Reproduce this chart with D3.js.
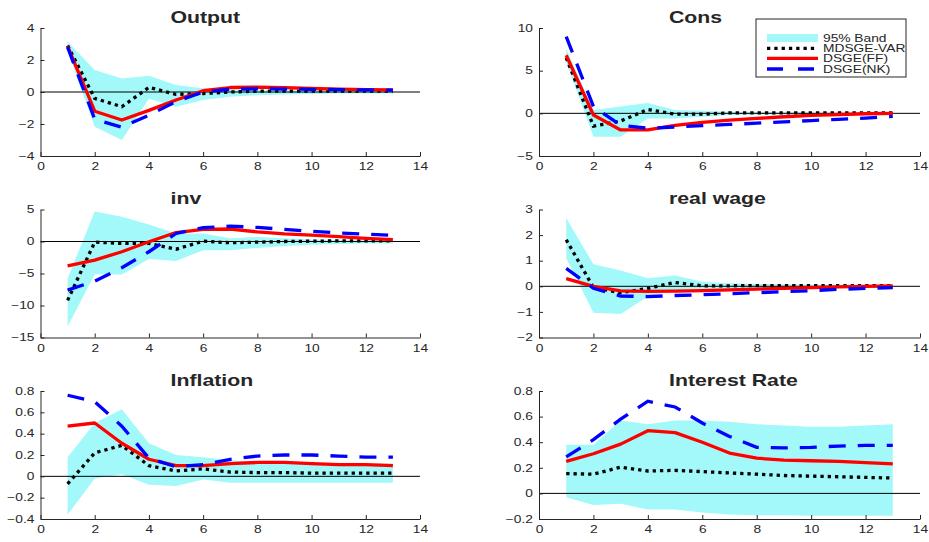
<!DOCTYPE html>
<html>
<head>
<meta charset="utf-8">
<script src="https://cdn.jsdelivr.net/npm/d3@7"></script>
<style>
  html, body { margin: 0; padding: 0; background: #fff; }
  svg { display: block; }
  text { font-family: "Liberation Sans", Arial, Helvetica, sans-serif; fill: #262626; }
</style>
</head>
<body>
<svg id="chart" width="929" height="542"></svg>
<script>
// ---------- data ----------
const periods = [1,2,3,4,5,6,7,8,9,10,11,12,13];
const xTicks = [0,2,4,6,8,10,12,14];
const seriesNames = ["95% Band", "MDSGE-VAR", "DSGE(FF)", "DSGE(NK)"];

// Output
const outputUpper = [3.15, 1.38, 0.84, 1.02, 0.44, 0.23, 0.15, 0.12, 0.11, 0.1, 0.1, 0.1, 0.1];
const outputLower = [2.6, -2.17, -3.0, -0.42, -0.92, -0.5, -0.3, -0.2, -0.15, -0.12, -0.1, -0.1, -0.1];
const outputVar   = [2.9, -0.4, -0.92, 0.29, -0.15, -0.1, 0.0, 0.05, 0.05, 0.05, 0.05, 0.05, 0.05];
const outputFF    = [2.85, -1.2, -1.75, -1.15, -0.5, 0.08, 0.28, 0.3, 0.27, 0.22, 0.18, 0.15, 0.13];
const outputNK    = [2.8, -1.7, -2.2, -1.45, -0.6, 0.0, 0.18, 0.2, 0.18, 0.17, 0.15, 0.13, 0.12];
const outputTicks = [-4, -2, 0, 2, 4];

// Cons
const consUpper = [7.6, 0.4, 0.8, 1.2, 0.4, 0.3, 0.2, 0.15, 0.12, 0.1, 0.1, 0.1, 0.1];
const consLower = [6.0, -2.75, -2.75, -0.6, -0.6, -0.4, -0.2, -0.15, -0.12, -0.1, -0.1, -0.1, -0.1];
const consVar   = [6.5, -1.5, -0.9, 0.45, -0.1, -0.1, 0.05, 0.05, 0.05, 0.05, 0.05, 0.05, 0.05];
const consFF    = [6.8, -0.2, -1.95, -1.95, -1.4, -1.05, -0.8, -0.6, -0.4, -0.25, -0.15, -0.05, 0.0];
const consNK    = [9.0, 0.8, -1.4, -1.75, -1.6, -1.45, -1.3, -1.15, -1.0, -0.85, -0.7, -0.55, -0.35];
const consTicks = [-5, 0, 5, 10];

// inv
const invUpper = [-5.8, 4.7, 3.85, 2.65, 1.25, 1.25, 0.5, 0.7, 0.5, 0.3, 0.25, 0.2, 0.2];
const invLower = [-13.3, -5.1, -5.15, -2.75, -3.05, -1.35, -1.35, -1.0, -0.7, -0.5, -0.4, -0.3, -0.3];
const invVar   = [-9.2, -0.1, -0.3, -0.3, -1.2, 0.05, -0.2, -0.1, 0.0, 0.05, 0.1, 0.1, 0.1];
const invFF    = [-3.8, -2.9, -1.6, -0.05, 1.4, 1.9, 1.95, 1.5, 1.2, 1.0, 0.75, 0.5, 0.3];
const invNK    = [-7.6, -6.2, -4.1, -1.6, 1.25, 2.15, 2.4, 2.2, 1.9, 1.6, 1.35, 1.15, 0.95];
const invTicks = [-15, -10, -5, 0, 5];

// real wage
const wageUpper = [2.67, 0.86, 0.62, 0.31, 0.42, 0.18, 0.12, 0.1, 0.08, 0.06, 0.05, 0.05, 0.05];
const wageLower = [1.1, -1.03, -1.08, -0.4, -0.15, -0.1, -0.1, -0.08, -0.07, -0.06, -0.05, -0.05, -0.05];
const wageVar   = [1.82, -0.05, -0.25, -0.08, 0.15, 0.02, 0.02, 0.03, 0.03, 0.03, 0.03, 0.03, 0.03];
const wageFF    = [0.3, 0.0, -0.18, -0.2, -0.19, -0.17, -0.14, -0.11, -0.08, -0.05, -0.02, 0.0, 0.02];
const wageNK    = [0.7, -0.08, -0.38, -0.4, -0.36, -0.33, -0.29, -0.25, -0.21, -0.17, -0.12, -0.08, -0.05];
const wageTicks = [-2, -1, 0, 1, 2, 3];

// Inflation
const inflUpper = [0.18, 0.5, 0.63, 0.31, 0.2, 0.18, 0.15, 0.13, 0.12, 0.12, 0.12, 0.12, 0.12];
const inflLower = [-0.36, -0.02, 0.02, -0.08, -0.09, -0.03, -0.06, -0.06, -0.06, -0.06, -0.06, -0.06, -0.06];
const inflVar   = [-0.07, 0.22, 0.29, 0.1, 0.05, 0.07, 0.04, 0.035, 0.035, 0.03, 0.03, 0.03, 0.03];
const inflFF    = [0.47, 0.5, 0.31, 0.16, 0.1, 0.1, 0.12, 0.13, 0.13, 0.12, 0.11, 0.11, 0.1];
const inflNK    = [0.76, 0.7, 0.47, 0.17, 0.09, 0.11, 0.16, 0.19, 0.2, 0.2, 0.19, 0.18, 0.18];
const inflTicks = [-0.4, -0.2, 0, 0.2, 0.4, 0.6, 0.8];

// Interest Rate
const rateUpper = [0.38, 0.38, 0.57, 0.54, 0.57, 0.57, 0.56, 0.54, 0.53, 0.52, 0.52, 0.53, 0.54];
const rateLower = [-0.03, -0.09, -0.08, -0.125, -0.125, -0.15, -0.165, -0.17, -0.17, -0.175, -0.175, -0.175, -0.175];
const rateVar   = [0.155, 0.15, 0.205, 0.175, 0.18, 0.17, 0.16, 0.15, 0.14, 0.135, 0.13, 0.125, 0.12];
const rateFF    = [0.25, 0.31, 0.385, 0.49, 0.475, 0.4, 0.315, 0.275, 0.26, 0.255, 0.25, 0.24, 0.23];
const rateNK    = [0.285, 0.42, 0.58, 0.72, 0.675, 0.55, 0.445, 0.36, 0.355, 0.36, 0.37, 0.375, 0.375];
const rateTicks = [-0.2, 0, 0.2, 0.4, 0.6, 0.8];

const panelTitles = ["Output", "Cons", "inv", "real wage", "Inflation", "Interest Rate"];

// ---------- layout / style ----------
const panels = [
  {title: panelTitles[0], upper: outputUpper, lower: outputLower, v: outputVar, ff: outputFF, nk: outputNK, ticks: outputTicks, col: 0, row: 0},
  {title: panelTitles[1], upper: consUpper,   lower: consLower,   v: consVar,   ff: consFF,   nk: consNK,   ticks: consTicks,   col: 1, row: 0, legend: true},
  {title: panelTitles[2], upper: invUpper,    lower: invLower,    v: invVar,    ff: invFF,    nk: invNK,    ticks: invTicks,    col: 0, row: 1},
  {title: panelTitles[3], upper: wageUpper,   lower: wageLower,   v: wageVar,   ff: wageFF,   nk: wageNK,   ticks: wageTicks,   col: 1, row: 1},
  {title: panelTitles[4], upper: inflUpper,   lower: inflLower,   v: inflVar,   ff: inflFF,   nk: inflNK,   ticks: inflTicks,   col: 0, row: 2},
  {title: panelTitles[5], upper: rateUpper,   lower: rateLower,   v: rateVar,   ff: rateFF,   nk: rateNK,   ticks: rateTicks,   col: 1, row: 2},
];

const colX = [[40.5, 420], [539, 920]];
const rowY = [[28, 156], [209.5, 337.5], [391, 519]];

const BAND = "#a3f9f9";
const AXIS = "#262626";
const SX = 1.35; // horizontal stretch of the text in the reference
const fmt = d => String(d).replace("-", "\u2212");

const svg = d3.select("#chart");
svg.append("rect").attr("width", 929).attr("height", 542).attr("fill", "#fff");

panels.forEach(p => {
  const [x0, x1] = colX[p.col];
  const [yTop, yBot] = rowY[p.row];
  const x = d3.scaleLinear().domain([0, 14]).range([x0, x1]);
  const y = d3.scaleLinear().domain([p.ticks[0], p.ticks[p.ticks.length - 1]]).range([yBot, yTop]);
  const g = svg.append("g");

  // band
  const area = d3.area().x((d, i) => x(periods[i])).y0((d, i) => y(p.lower[i])).y1((d, i) => y(p.upper[i]));
  g.append("path").datum(p.upper).attr("d", area).attr("fill", BAND).attr("stroke", "none");

  // zero line
  g.append("line").attr("x1", x(0)).attr("x2", x(14)).attr("y1", y(0)).attr("y2", y(0))
    .attr("stroke", "#000").attr("stroke-width", 1);

  const line = d3.line().x((d, i) => x(periods[i])).y(d => y(d));
  g.append("path").datum(p.v).attr("d", line).attr("fill", "none")
    .attr("stroke", "#000").attr("stroke-width", 3.3).attr("stroke-dasharray", "3.3,4");
  g.append("path").datum(p.ff).attr("d", line).attr("fill", "none")
    .attr("stroke", "#ff0000").attr("stroke-width", 3.3).attr("stroke-linejoin", "round");
  g.append("path").datum(p.nk).attr("d", line).attr("fill", "none")
    .attr("stroke", "#0000ff").attr("stroke-width", 3.3).attr("stroke-dasharray", "17,12");

  // axes
  const ax = g.append("g").attr("transform", `translate(0,${yBot})`)
    .call(d3.axisBottom(x).tickValues(xTicks).tickFormat(fmt).tickSizeInner(-4).tickSizeOuter(0).tickPadding(7));
  const ay = g.append("g").attr("transform", `translate(${x0},0)`)
    .call(d3.axisLeft(y).tickValues(p.ticks).tickFormat(fmt).tickSizeInner(-4).tickSizeOuter(0).tickPadding(6));
  [ax, ay].forEach(a => {
    a.select(".domain").attr("stroke", AXIS).attr("stroke-width", 1);
    a.selectAll(".tick line").attr("stroke", AXIS);
    a.selectAll(".tick text").attr("fill", AXIS).style("font-size", "10.2px")
      .style("font-family", '"Liberation Sans", Arial, sans-serif');
  });
  ax.selectAll(".tick text").attr("transform", `scale(${SX},1)`);
  ay.selectAll(".tick text").attr("x", 0).attr("transform", `translate(-6,0) scale(${SX},1)`);

  // title
  g.append("text")
    .attr("transform", `translate(${x0 + 130},${yTop - 5.5}) scale(1.33,1)`)
    .attr("text-anchor", "start")
    .style("font-size", "16px").style("font-weight", "bold")
    .text(p.title);

  // legend
  if (p.legend) {
    const lx = x1 - 164, ly = yTop - 9;
    const lg = g.append("g").attr("transform", `translate(${lx},${ly})`);
    lg.append("rect").attr("x", 0).attr("y", 0).attr("width", 150).attr("height", 58)
      .attr("fill", "#fff").attr("stroke", AXIS).attr("stroke-width", 1);
    const rowsY = [19, 29.3, 39.3, 50];
    lg.append("rect").attr("x", 11).attr("y", rowsY[0] - 4).attr("width", 51).attr("height", 8).attr("fill", BAND);
    lg.append("line").attr("x1", 11).attr("x2", 62).attr("y1", rowsY[1]).attr("y2", rowsY[1])
      .attr("stroke", "#000").attr("stroke-width", 3.3).attr("stroke-dasharray", "3.3,4");
    lg.append("line").attr("x1", 11).attr("x2", 62).attr("y1", rowsY[2]).attr("y2", rowsY[2])
      .attr("stroke", "#ff0000").attr("stroke-width", 3.3);
    lg.append("line").attr("x1", 11).attr("x2", 62).attr("y1", rowsY[3]).attr("y2", rowsY[3])
      .attr("stroke", "#0000ff").attr("stroke-width", 3.3).attr("stroke-dasharray", "16,15");
    seriesNames.forEach((n, i) => {
      lg.append("text").attr("transform", `translate(67,${rowsY[i] + 3.7}) scale(${SX},1)`)
        .style("font-size", "10.2px").text(n);
    });
  }
});
</script>
</body>
</html>
